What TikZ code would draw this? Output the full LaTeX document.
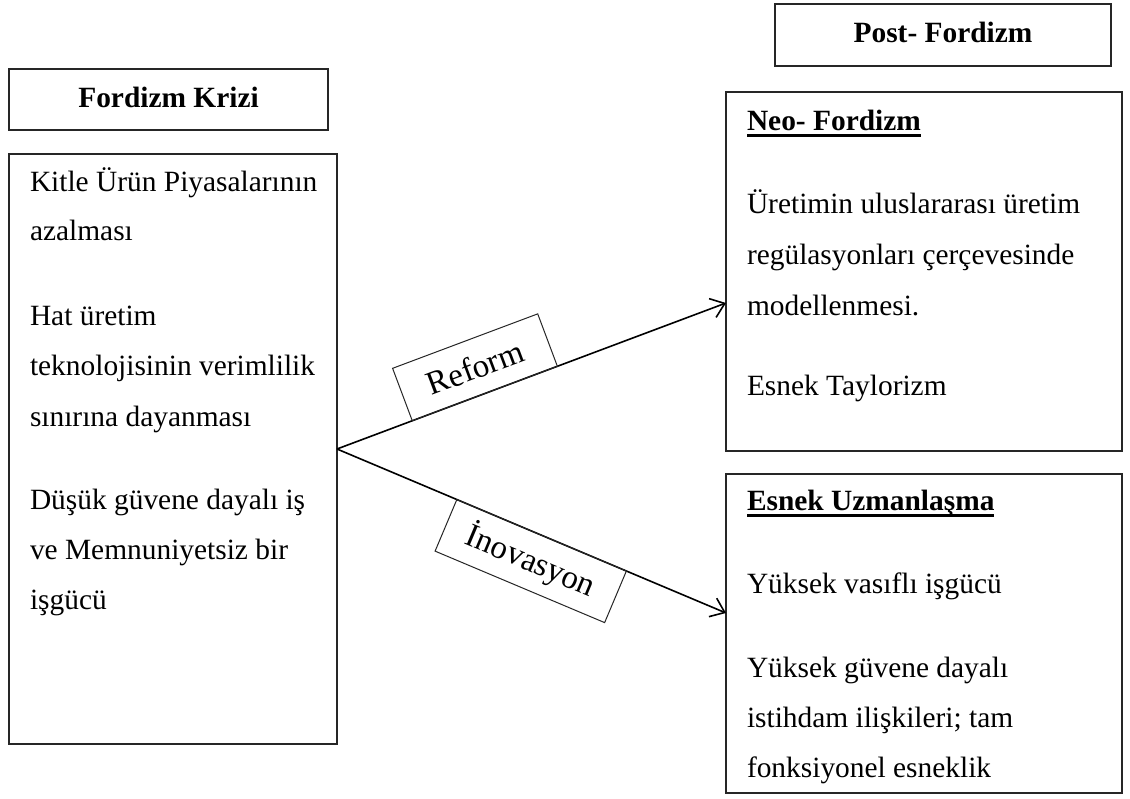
\documentclass[tikz,border=0pt]{standalone}
\usepackage{fontspec}
\setmainfont{Liberation Serif}
\usetikzlibrary{arrows.meta}
\begin{document}
\begin{tikzpicture}[x=1pt,y=-1pt,
  frame/.style={draw=black!85, line width=1.2pt, inner sep=0pt, outer sep=0pt, anchor=north west},
  txt/.style={inner sep=0pt, outer sep=0pt, anchor=base west, font=\fontsize{29.4pt}{35pt}\selectfont},
  head/.style={inner sep=0pt, outer sep=0pt, anchor=base, font=\fontsize{29.4pt}{35pt}\selectfont\bfseries},
  subhead/.style={txt, font=\fontsize{29.4pt}{35pt}\selectfont\bfseries},
  uline/.style={line width=2.4pt},
  flow/.style={line width=1.6pt, -{Straight Barb[length=13pt,width=20pt]}},
  tag/.style={draw=black!85, line width=1pt, sloped, font=\fontsize{33pt}{40pt}\selectfont,
              minimum height=56pt, inner sep=0pt, outer sep=0pt}
]
\useasboundingbox[fill=white] (0,0) rectangle (1130,798);

% frames
\node[frame, minimum width=319pt, minimum height=61pt]  (fk)   at (9,69)   {};
\node[frame, minimum width=328pt, minimum height=590pt] (left) at (9,154)  {};
\node[frame, minimum width=336pt, minimum height=62pt]  (pf)   at (775,4)  {};
\node[frame, minimum width=396pt, minimum height=359pt] (neo)  at (726,92) {};
\node[frame, minimum width=396pt, minimum height=319pt] (esn)  at (726,474) {};

% frame titles
\node[head] (fkt) at (168.5,107) {Fordizm Krizi};
\node[head] (pft) at (943,42) {Post- Fordizm};

% crisis of Fordism
\node[txt] (l1) at (30,191) {Kitle Ürün Piyasalarının};
\node[txt] (l2) at (30,240) {azalması};
\node[txt] (l3) at (30,325) {Hat üretim};
\node[txt] (l4) at (30,375) {teknolojisinin verimlilik};
\node[txt] (l5) at (30,426) {sınırına dayanması};
\node[txt] (l6) at (30,509) {Düşük güvene dayalı iş};
\node[txt] (l7) at (30,559) {ve Memnuniyetsiz bir};
\node[txt] (l8) at (30,609) {işgücü};

% neo-Fordism
\node[subhead] (nh) at (747,130) {Neo- Fordizm};
\draw[uline] ([yshift=-5.5pt]nh.base west) -- ([yshift=-5.5pt]nh.base east);
\node[txt] (n1) at (747,213) {Üretimin uluslararası üretim};
\node[txt] (n2) at (747,264) {regülasyonları çerçevesinde};
\node[txt] (n3) at (747,315) {modellenmesi.};
\node[txt] (n4) at (747,395) {Esnek Taylorizm};

% flexible specialisation
\node[subhead] (eh) at (747,510) {Esnek Uzmanlaşma};
\draw[uline] ([yshift=-5.5pt]eh.base west) -- ([yshift=-5.5pt]eh.base east);
\node[txt] (e1) at (747,593) {Yüksek vasıflı işgücü};
\node[txt] (e2) at (747,677) {Yüksek güvene dayalı};
\node[txt] (e3) at (747,727) {istihdam ilişkileri; tam};
\node[txt] (e4) at (747,777) {fonksiyonel esneklik};

% transitions
\coordinate (ra) at (neo.west |- 0,303);
\coordinate (ia) at (esn.west |- 0,613);
\draw[flow] (left.east) -- node[tag, above, pos=0.38, minimum width=155pt] (rf) {Reform} (ra);
\draw[flow] (left.east) -- node[tag, below, pos=0.526, minimum width=184pt] (iv) {İnovasyon} (ia);
\end{tikzpicture}
\end{document}
